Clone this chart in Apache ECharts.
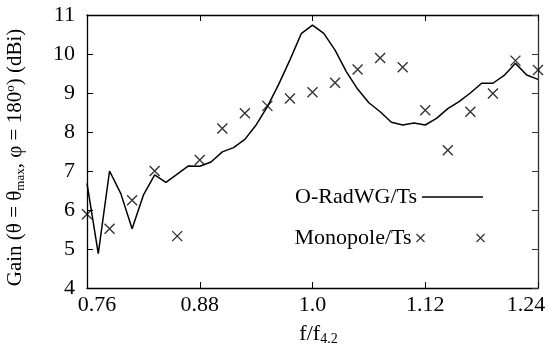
<!DOCTYPE html>
<html>
<head>
<meta charset="utf-8">
<script src="https://cdn.jsdelivr.net/npm/echarts@6/dist/echarts.min.js"></script>
<style>
  html, body { margin: 0; padding: 0; background: #fff; }
  #chart { width: 550px; height: 350px; }
</style>
</head>
<body>
<div id="chart"></div>
<script>
// f/f4.2 sample points of the simulated curve (step 0.012)
const lineFreq = [0.76, 0.772, 0.784, 0.796, 0.808, 0.82, 0.832, 0.844, 0.856, 0.868,
  0.88, 0.892, 0.904, 0.916, 0.928, 0.94, 0.952, 0.964, 0.976, 0.988,
  1.0, 1.012, 1.024, 1.036, 1.048, 1.06, 1.072, 1.084, 1.096, 1.108,
  1.12, 1.132, 1.144, 1.156, 1.168, 1.18, 1.192, 1.204, 1.216, 1.228, 1.24]
const radwgGain = [6.68, 4.88, 7.0, 6.42, 5.52, 6.38, 6.9, 6.71, 6.92, 7.13,
  7.12, 7.23, 7.49, 7.6, 7.81, 8.18, 8.65, 9.22, 9.85, 10.52,
  10.74, 10.53, 10.1, 9.55, 9.1, 8.75, 8.52, 8.25, 8.18, 8.23,
  8.18, 8.35, 8.6, 8.78, 9.0, 9.25, 9.25, 9.45, 9.76, 9.46, 9.35]

// monopole points (step 0.024)
const monoFreq = [0.76, 0.784, 0.808, 0.832, 0.856, 0.88, 0.904, 0.928, 0.952, 0.976,
  1.0, 1.024, 1.048, 1.072, 1.096, 1.12, 1.144, 1.168, 1.192, 1.216, 1.24]
const monoGain = [5.89, 5.52, 6.25, 7.0, 5.33, 7.28, 8.09, 8.48, 8.67, 8.86,
  9.02, 9.26, 9.6, 9.9, 9.66, 8.56, 7.53, 8.52, 8.99, 9.83, 9.59]

const xTickLabels = ['0.76', '0.88', '1.0', '1.12', '1.24']
const yTickLabels = ['4', '5', '6', '7', '8', '9', '10', '11']

const font = 'Liberation Serif'
const cross = 'path://M0,0L10,10M10,0L0,10'

const chart = echarts.init(document.getElementById('chart'))

const axisLineStyle = {lineStyle: {color: '#000', width: 1.3}}

chart.setOption({
  animation: false,
  grid: {left: 87, right: 12, top: 15, bottom: 62, outerBoundsMode: 'none', containLabel: false},
  legend: [
    {
      data: ['O-RadWG/Ts'],
      right: 67,
      top: 186,
      padding: 0,
      align: 'right',
      icon: 'rect',
      itemWidth: 61,
      itemHeight: 1.5,
      itemStyle: {color: '#000'},
      textStyle: {fontFamily: font, fontSize: 22, color: '#000'},
      selectedMode: false
    },
    {
      data: ['Monopole/Ts'],
      right: 63,
      top: 227,
      padding: 0,
      align: 'right',
      icon: 'path://M0,0L8,8M8,0L0,8M60,0L68,8M68,0L60,8',
      itemWidth: 68,
      itemHeight: 8,
      itemStyle: {color: 'none', borderColor: '#000', borderWidth: 1.2},
      textStyle: {fontFamily: font, fontSize: 22, color: '#000'},
      selectedMode: false
    }
  ],
  xAxis: [
    {
      type: 'value',
      min: 0.76,
      max: 1.24,
      interval: 0.12,
      name: 'f/f{sub|4.2}',
      nameLocation: 'middle',
      nameGap: 34,
      nameTextStyle: {
        fontFamily: font, fontSize: 22, color: '#000', padding: [0, 0, 0, 12],
        rich: {sub: {fontFamily: font, fontSize: 14, color: '#000', verticalAlign: 'bottom', padding: [10, 0, 0, 0]}}
      },
      axisLine: axisLineStyle,
      axisTick: {inside: true, length: 6, lineStyle: {color: '#000'}},
      splitLine: {show: false},
      axisLabel: {
        fontFamily: font, fontSize: 22, color: '#000', margin: 6,
        formatter: (v, i) => {
          if (i === 0) return '{first|' + xTickLabels[i] + '}'
          if (i === xTickLabels.length - 1) return '{last|' + xTickLabels[i] + '}'
          return xTickLabels[i]
        },
        rich: {
          first: {fontFamily: font, fontSize: 22, color: '#000', padding: [0, 0, 0, 20]},
          last: {fontFamily: font, fontSize: 22, color: '#000', padding: [0, 24, 0, 0]}
        }
      }
    },
    {
      type: 'value',
      position: 'top',
      min: 0.76,
      max: 1.24,
      interval: 0.12,
      axisLine: axisLineStyle,
      axisTick: {inside: true, length: 6, lineStyle: {color: '#000'}},
      axisLabel: {show: false},
      splitLine: {show: false}
    }
  ],
  yAxis: [
    {
      type: 'value',
      min: 4,
      max: 11,
      interval: 1,
      name: 'Gain (θ = θ{sub|max}, φ = 180{sup|o}) (dBi)',
      nameLocation: 'middle',
      nameRotate: 90,
      nameGap: 60,
      nameTextStyle: {
        fontFamily: font, fontSize: 21, color: '#000', padding: [0, 12, 0, 0],
        rich: {
          sub: {fontFamily: font, fontSize: 13, color: '#000', verticalAlign: 'bottom', padding: [10, 0, 0, 0]},
          sup: {fontFamily: font, fontSize: 13, color: '#000', verticalAlign: 'top', padding: [0, 0, 10, 0]}
        }
      },
      axisLine: axisLineStyle,
      axisTick: {inside: true, length: 6, lineStyle: {color: '#000'}},
      splitLine: {show: false},
      axisLabel: {
        fontFamily: font, fontSize: 22, color: '#000', margin: 12,
        formatter: (v, i) => yTickLabels[i]
      }
    },
    {
      type: 'value',
      position: 'right',
      min: 4,
      max: 11,
      interval: 1,
      axisLine: {lineStyle: {color: '#333', width: 1.3}},
      axisTick: {inside: true, length: 6, lineStyle: {color: '#333'}},
      axisLabel: {show: false},
      splitLine: {show: false}
    }
  ],
  series: [
    {
      name: 'O-RadWG/Ts',
      type: 'line',
      data: lineFreq.map((f, i) => [f, radwgGain[i]]),
      symbol: 'none',
      lineStyle: {color: '#000', width: 1.5},
      itemStyle: {color: '#000'}
    },
    {
      name: 'Monopole/Ts',
      type: 'scatter',
      data: monoFreq.map((f, i) => [f, monoGain[i]]),
      symbol: cross,
      symbolSize: 10,
      itemStyle: {color: 'none', borderColor: '#000', borderWidth: 1.4}
    }
  ]
})
</script>
</body>
</html>
